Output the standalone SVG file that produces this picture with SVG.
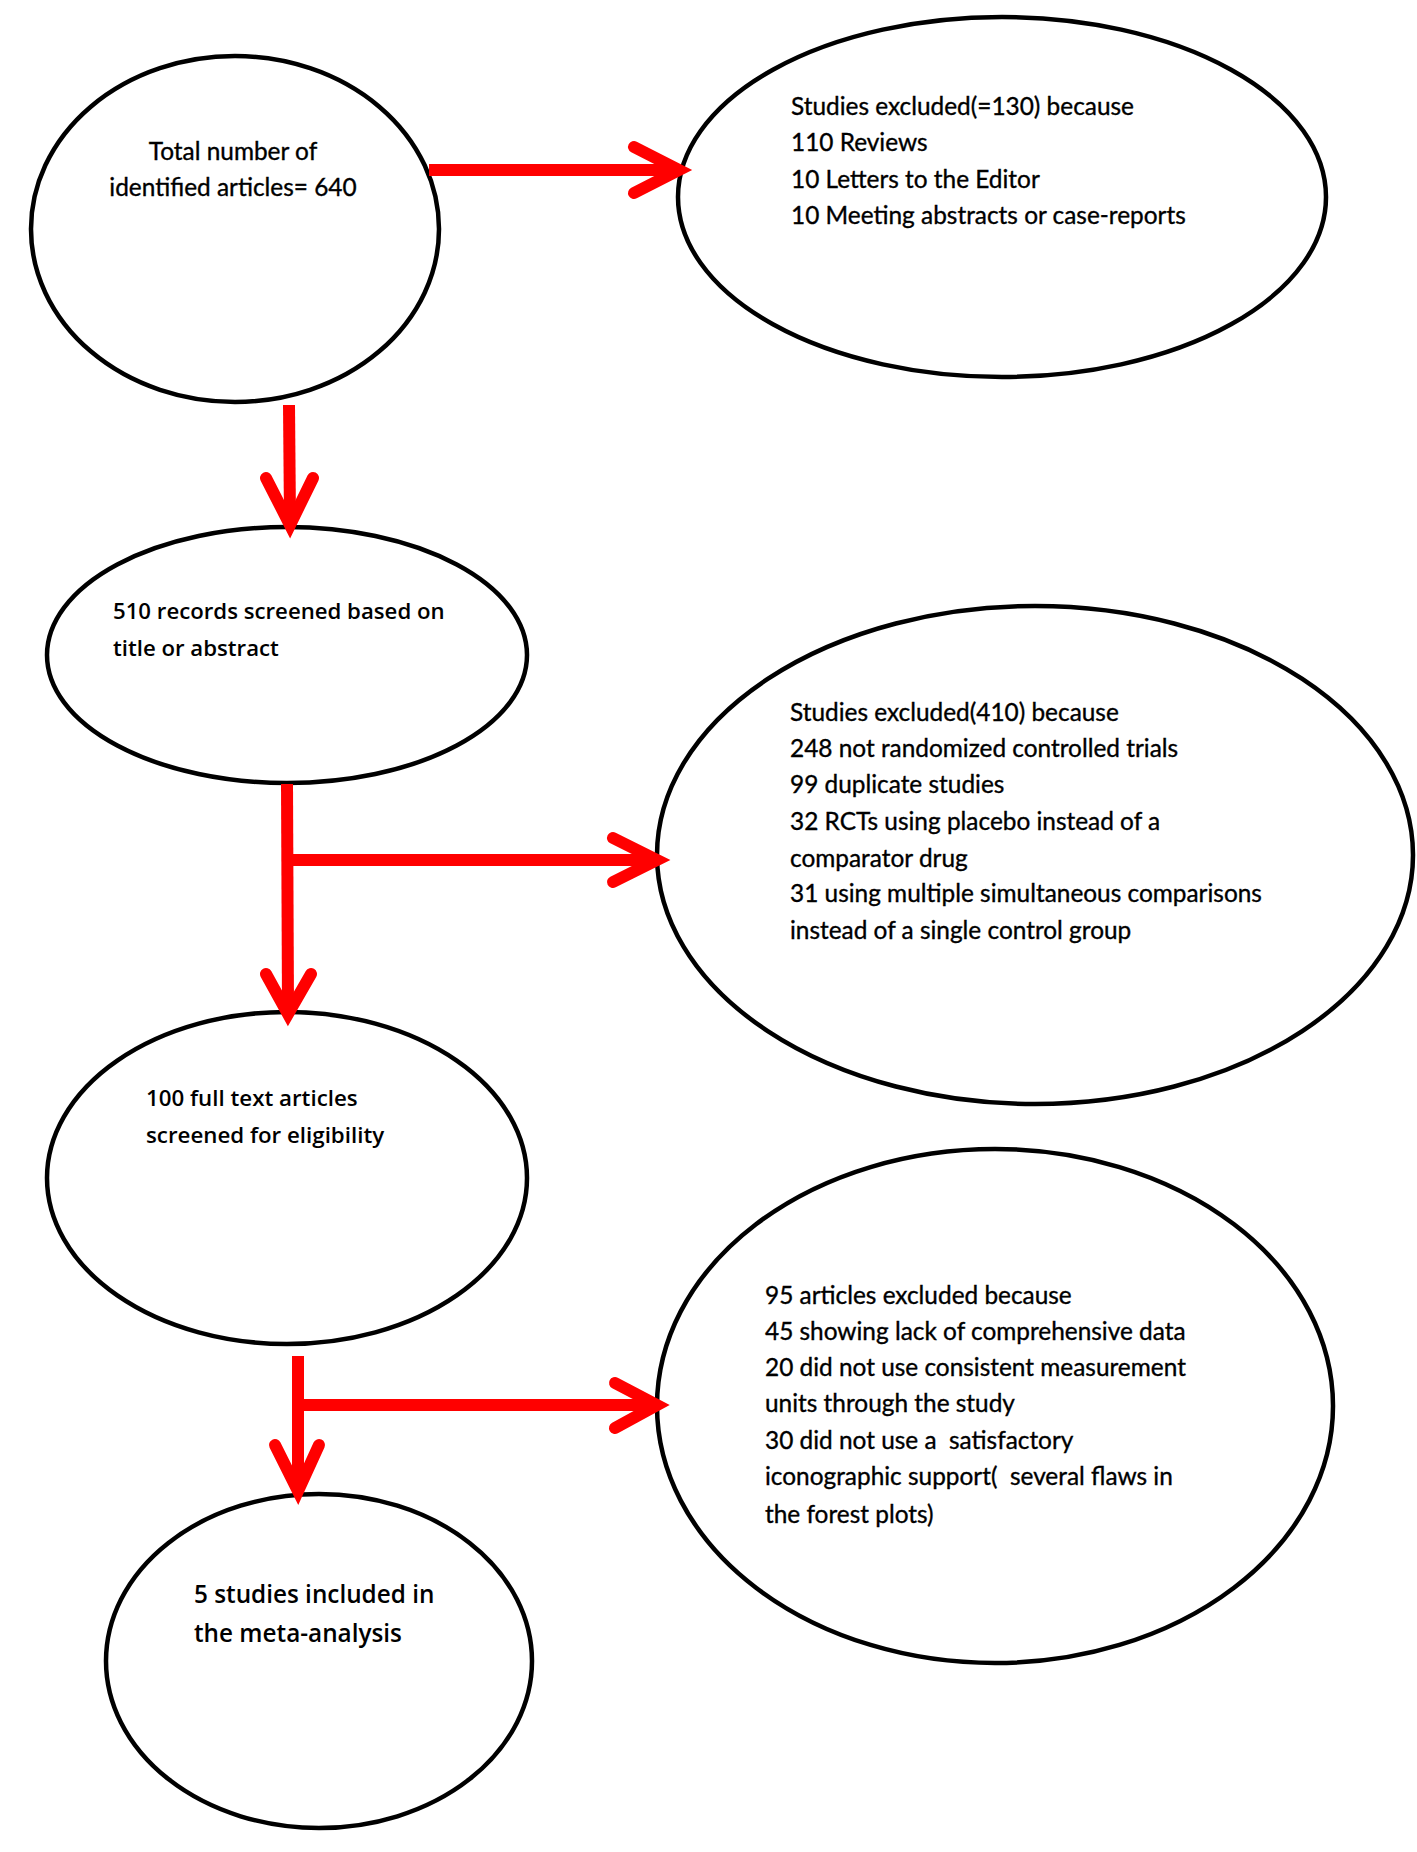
<svg xmlns="http://www.w3.org/2000/svg" width="1417" height="1852" viewBox="0 0 1417 1852">
<style>
.node ellipse{fill:#fff;stroke:#000;stroke-width:4.5}
.t{font-family:Lato,"Liberation Sans",sans-serif;font-size:24.4px;fill:#000;stroke:#000;stroke-width:0.35}
.b{font-family:"Open Sans","Liberation Sans",sans-serif;font-weight:600;fill:#000}
.conn polyline,.conn line{fill:none;stroke:#ff0000;stroke-width:12;stroke-linecap:round;stroke-linejoin:miter}
.conn .shaft{stroke-linecap:butt}
</style>
<rect width="1417" height="1852" fill="#fff"/>
<g id="n1" class="node">
<ellipse cx="235" cy="229" rx="204" ry="173"/>
<text class="t" x="233" y="160" text-anchor="middle">Total number of</text>
<text class="t" x="233" y="196" text-anchor="middle">identified articles= 640</text>
</g>
<g id="n2" class="node">
<ellipse cx="1002" cy="197" rx="324" ry="180"/>
<text class="t" x="791" y="115">Studies excluded(=130) because</text>
<text class="t" x="791" y="151">110 Reviews</text>
<text class="t" x="791" y="188">10 Letters to the Editor</text>
<text class="t" x="791" y="224">10 Meeting abstracts or case-reports</text>
</g>
<g id="n3" class="node">
<ellipse cx="287" cy="655" rx="240" ry="128"/>
<text class="b" x="113" y="619" font-size="22.2">510 records screened based on</text>
<text class="b" x="113" y="656" font-size="22.2">title or abstract</text>
</g>
<g id="n4" class="node">
<ellipse cx="1035" cy="855" rx="378" ry="249"/>
<text class="t" x="790" y="721">Studies excluded(410) because</text>
<text class="t" x="790" y="757">248 not randomized controlled trials</text>
<text class="t" x="790" y="793">99 duplicate studies</text>
<text class="t" x="790" y="830">32 RCTs using placebo instead of a</text>
<text class="t" x="790" y="867">comparator drug</text>
<text class="t" x="790" y="902">31 using multiple simultaneous comparisons</text>
<text class="t" x="790" y="939">instead of a single control group</text>
</g>
<g id="n5" class="node">
<ellipse cx="287" cy="1178" rx="240" ry="166"/>
<text class="b" x="146" y="1106" font-size="22.3">100 full text articles</text>
<text class="b" x="146" y="1143" font-size="22.3">screened for eligibility</text>
</g>
<g id="n6" class="node">
<ellipse cx="995" cy="1406" rx="338" ry="257"/>
<text class="t" x="765" y="1304">95 articles excluded because</text>
<text class="t" x="765" y="1340">45 showing lack of comprehensive data</text>
<text class="t" x="765" y="1376">20 did not use consistent measurement</text>
<text class="t" x="765" y="1412">units through the study</text>
<text class="t" x="765" y="1449" xml:space="preserve">30 did not use a  satisfactory</text>
<text class="t" x="765" y="1485" xml:space="preserve">iconographic support(  several flaws in</text>
<text class="t" x="765" y="1523">the forest plots)</text>
</g>
<g id="n7" class="node">
<ellipse cx="319" cy="1661" rx="213" ry="167"/>
<text class="b" x="194" y="1603" font-size="24.3">5 studies included in</text>
<text class="b" x="194" y="1642" font-size="24.3">the meta-analysis</text>
</g>
<g id="connectors" class="conn">
<line class="shaft" x1="429" y1="170" x2="674" y2="170"/>
<polyline points="634,147 679,170 634,193"/>
<line class="shaft" x1="289" y1="405" x2="290" y2="520"/>
<polyline points="266,478 290,525 313,478"/>
<line class="shaft" x1="287" y1="784" x2="288" y2="1008"/>
<line class="shaft" x1="288" y1="860" x2="653" y2="860"/>
<polyline points="613,838 657,860 613,882"/>
<polyline points="266,974 288,1014 311,974"/>
<line class="shaft" x1="298" y1="1356" x2="298" y2="1486"/>
<line class="shaft" x1="298" y1="1405" x2="653" y2="1405"/>
<polyline points="615,1383 657,1405 615,1428"/>
<polyline points="275,1445 298,1491 319,1445"/>
</g>
</svg>
